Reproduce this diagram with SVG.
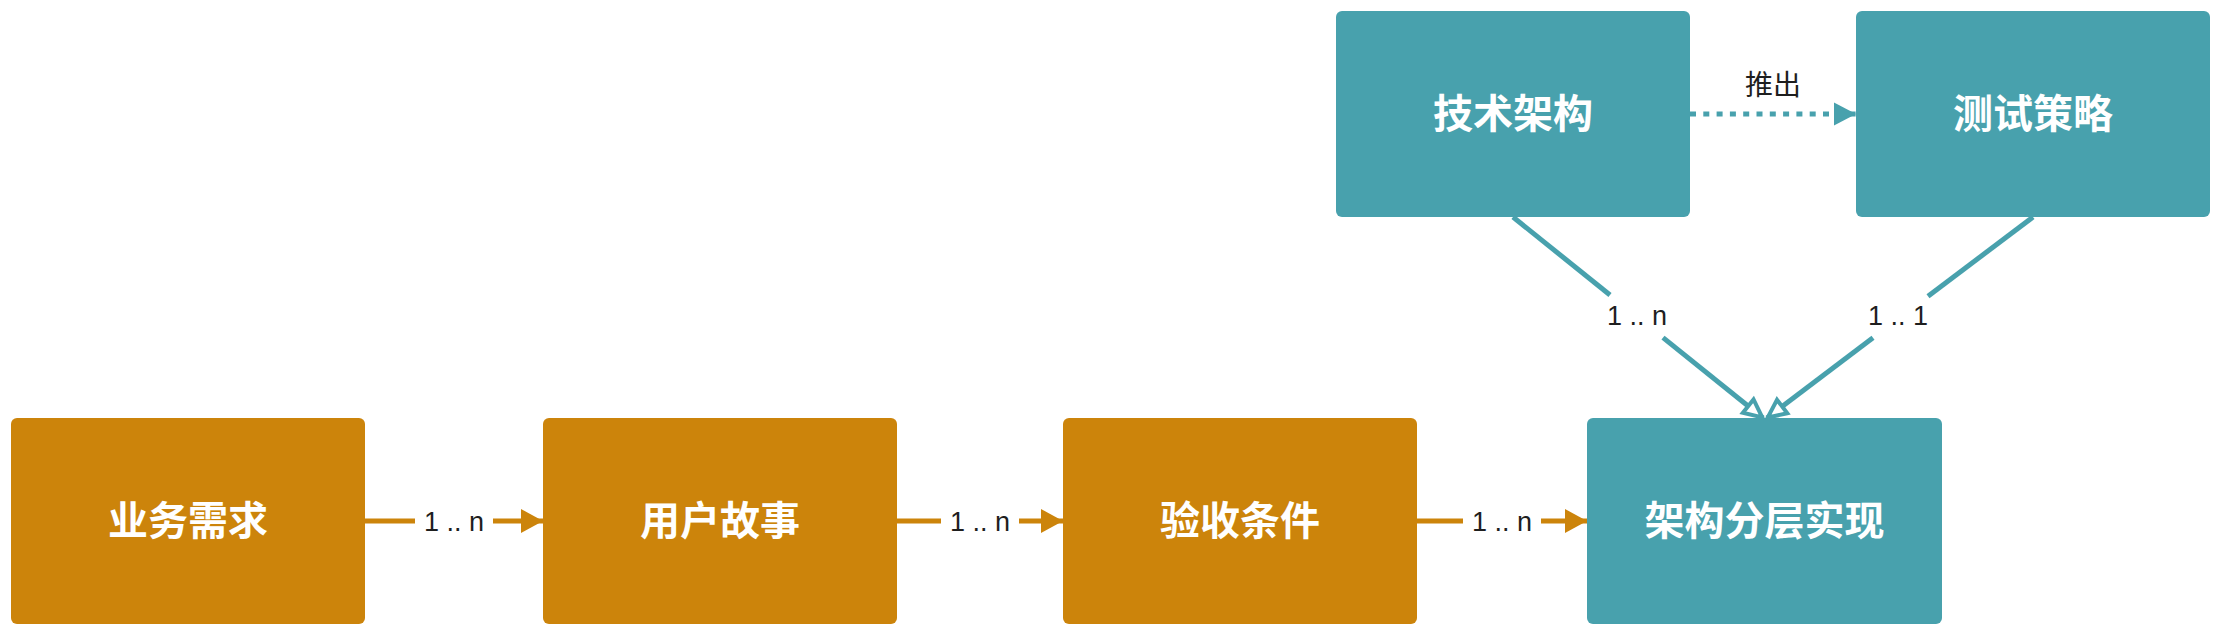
<svg xmlns="http://www.w3.org/2000/svg" width="2220" height="633" viewBox="0 0 2220 633">
<style>
.or{fill:#CC840B}
.tl{fill:#48A1AD}
.nt{fill:#FFFFFF;font-family:"Noto Sans CJK SC","Noto Sans",sans-serif;font-size:40px;font-weight:bold;text-anchor:middle}
.lb{fill:#1E1E1E;font-family:"Liberation Sans","Noto Sans CJK SC",sans-serif;font-size:27px;text-anchor:middle}
.lbc{fill:#1E1E1E;font-family:"Noto Sans CJK SC",sans-serif;font-size:28px;text-anchor:middle}
.co{stroke:#CC840B;stroke-width:5;fill:none}
.ct{stroke:#48A1AD;stroke-width:5;fill:none}
</style>
<defs>
<marker id="ao" markerUnits="userSpaceOnUse" markerWidth="24" markerHeight="26" refX="22" refY="12" orient="auto" overflow="visible">
<path d="M0,0 L22,12 L0,24 Z" fill="#CC840B"/>
</marker>
<marker id="at" markerUnits="userSpaceOnUse" markerWidth="24" markerHeight="26" refX="22" refY="11.5" orient="auto" overflow="visible">
<path d="M0,0 L22,11.5 L0,23 Z" fill="#48A1AD"/>
</marker>
<marker id="ah" markerUnits="userSpaceOnUse" markerWidth="26" markerHeight="26" refX="20" refY="10" orient="auto" overflow="visible">
<path d="M1,1.5 L19,10 L1,18.5 Z" fill="#FFFFFF" stroke="#48A1AD" stroke-width="4" stroke-linejoin="miter"/>
</marker>
</defs>

<g id="connectors">
<g id="c1">
<path class="co" d="M365,521 L415,521"/>
<path class="co" d="M493,521 L543,521" marker-end="url(#ao)"/>
<text class="lb" x="454" y="531">1 .. n</text>
</g>
<g id="c2">
<path class="co" d="M897,521 L941,521"/>
<path class="co" d="M1019,521 L1063,521" marker-end="url(#ao)"/>
<text class="lb" x="980" y="531">1 .. n</text>
</g>
<g id="c3">
<path class="co" d="M1417,521 L1463,521"/>
<path class="co" d="M1541,521 L1587,521" marker-end="url(#ao)"/>
<text class="lb" x="1502" y="531">1 .. n</text>
</g>
<g id="c4">
<path class="ct" d="M1690,114 L1856,114" stroke-dasharray="6 7.3" marker-end="url(#at)"/>
<text class="lbc" x="1773" y="95">推出</text>
</g>
<g id="c5">
<path class="ct" d="M1513,217 L1610,295"/>
<path class="ct" d="M1663,337.6 L1763,418" marker-end="url(#ah)"/>
<text class="lb" x="1637" y="325">1 .. n</text>
</g>
<g id="c6">
<path class="ct" d="M2033,217 L1928,296.3"/>
<path class="ct" d="M1873,337.8 L1767,418" marker-end="url(#ah)"/>
<text class="lb" x="1898" y="325">1 .. 1</text>
</g>
</g>

<g id="n1"><rect class="or" x="11" y="418" width="354" height="206" rx="6"/><text class="nt" x="188" y="535">业务需求</text></g>
<g id="n2"><rect class="or" x="543" y="418" width="354" height="206" rx="6"/><text class="nt" x="720" y="535">用户故事</text></g>
<g id="n3"><rect class="or" x="1063" y="418" width="354" height="206" rx="6"/><text class="nt" x="1240" y="535">验收条件</text></g>
<g id="n4"><rect class="tl" x="1587" y="418" width="355" height="206" rx="6"/><text class="nt" x="1764.5" y="535">架构分层实现</text></g>
<g id="n5"><rect class="tl" x="1336" y="11" width="354" height="206" rx="6"/><text class="nt" x="1513" y="128">技术架构</text></g>
<g id="n6"><rect class="tl" x="1856" y="11" width="354" height="206" rx="6"/><text class="nt" x="2033" y="128">测试策略</text></g>
</svg>
